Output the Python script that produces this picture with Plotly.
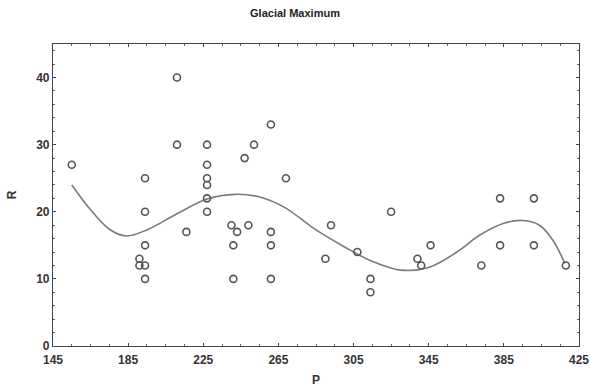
import plotly.graph_objects as go

# Scatter data (P, R)
P = [155, 211, 211, 227, 247, 194, 227, 227, 227, 227, 227, 261, 252, 269,
     194, 216, 240, 243, 249, 194, 191, 191, 194, 194, 241, 241,
     261, 261, 261, 325, 293, 290, 307, 314, 314, 339, 341, 346,
     373, 383, 383, 401, 401, 418]
R = [27, 40, 30, 30, 28, 25, 27, 25, 24, 22, 20, 33, 30, 25,
     20, 17, 18, 17, 18, 15, 13, 12, 12, 10, 15, 10,
     17, 15, 10, 20, 18, 13, 14, 10, 8, 13, 12, 15,
     12, 22, 15, 22, 15, 12]

# Fitted curve
curve_P = [155, 165, 175, 184, 195, 211, 227, 242, 255, 268, 285,
           300, 315, 330, 345, 360, 372, 385, 395, 404, 411, 417.5]
curve_R = [24, 20.3, 17.4, 16.4, 17.3, 19.7, 21.9, 22.6, 22.2, 20.7, 17.3,
           14.8, 12.6, 11.3, 11.7, 14, 16.5, 18.3, 18.7, 18, 15.8, 12.3]

x_ticks = [145, 185, 225, 265, 305, 345, 385, 425]
y_ticks = [0, 10, 20, 30, 40]

fig = go.Figure()
fig.add_trace(go.Scatter(x=curve_P, y=curve_R, mode="lines", line_shape="spline",
                         line=dict(color="#7a7a7a", width=1.6, smoothing=1.0), hoverinfo="skip"))
fig.add_trace(go.Scatter(x=P, y=R, mode="markers",
                         marker=dict(symbol="circle-open", size=7,
                                     color="#555555", line=dict(width=1.6, color="#555555"))))

axis_font = dict(family="Liberation Sans, Arial", size=12, color="#333333")
fig.update_layout(
    width=590, height=387,
    margin=dict(l=53, r=11, t=44, b=41),
    paper_bgcolor="white", plot_bgcolor="white",
    showlegend=False,
    title=dict(text="<b>Glacial Maximum</b>", x=0.5, xanchor="center", y=0.965, yanchor="middle",
               font=dict(family="Liberation Sans, Arial", size=11, color="#222222")),
    xaxis=dict(range=[145, 425], tickvals=x_ticks, ticktext=[f"<b>{v}</b>" for v in x_ticks],
               showgrid=False, zeroline=False, showline=True, linecolor="#444444", linewidth=1.2,
               mirror="allticks", ticks="inside", ticklen=3, tickcolor="#444444",
               ticklabelstandoff=2, automargin=False,
               minor=dict(dtick=10, tick0=145, ticks="inside", ticklen=2, tickcolor="#666666"),
               tickfont=axis_font,
               title=dict(text="<b>P</b>", font=dict(family="Liberation Sans, Arial", size=12, color="#333333"),
                          standoff=10)),
    yaxis=dict(range=[0, 45], tickvals=y_ticks, ticktext=[f"<b>{v}</b>" for v in y_ticks],
               showgrid=False, zeroline=False, showline=True, linecolor="#444444", linewidth=1.2,
               mirror="allticks", ticks="inside", ticklen=3, tickcolor="#444444",
               automargin=False,
               minor=dict(dtick=2, tick0=0, ticks="inside", ticklen=2, tickcolor="#666666"),
               tickfont=axis_font,
               title=dict(text="<b>R</b>", font=dict(family="Liberation Sans, Arial", size=12, color="#333333"),
                          standoff=16)),
)

fig.write_html("out.html")
